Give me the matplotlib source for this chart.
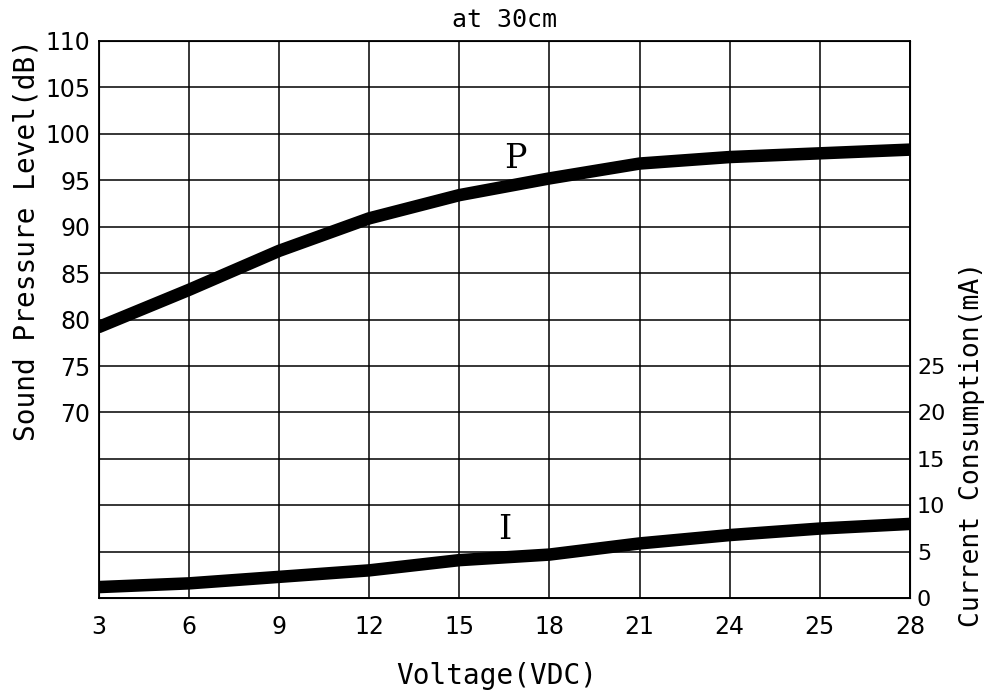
import numpy as np
import matplotlib.pyplot as plt

# data
voltage_labels = ["3", "6", "9", "12", "15", "18", "21", "24", "25", "28"]
spl_db = [79.2, 83.2, 87.4, 90.9, 93.4, 95.2, 96.8, 97.5, 97.9, 98.3]
current_ma = [1.2, 1.6, 2.3, 3.0, 4.1, 4.7, 5.9, 6.8, 7.5, 8.0]
left_ticks = [50, 55, 60, 65, 70, 75, 80, 85, 90, 95, 100, 105, 110]
right_ticks = [0, 5, 10, 15, 20, 25]

plt.rcParams['font.family'] = ['DejaVu Sans']
mono = 'DejaVu Sans Mono'

W, H = 988, 694
fig = plt.figure(figsize=(W / 100, H / 100), dpi=100)
ax = fig.add_axes([0.100, 0.138, 0.821, 0.803])
x = np.arange(len(voltage_labels))

ax.plot(x, spl_db, color='black', lw=9, solid_capstyle='round',
        solid_joinstyle='round', zorder=3)
ax.set_xlim(0, len(voltage_labels) - 1)
ax.set_ylim(50, 110)
ax.set_xticks(x)
ax.set_xticklabels(voltage_labels, fontsize=17)
ax.set_yticks(left_ticks)
ax.set_yticklabels([str(t) if t >= 70 else "" for t in left_ticks], fontsize=17)
ax.tick_params(length=0, pad=6)
ax.tick_params(axis='x', pad=12)
ax.grid(True, color='black', lw=1.1)
for s in ax.spines.values():
    s.set_linewidth(1.3)

ax2 = ax.twinx()
ax2.plot(x, current_ma, color='black', lw=9, solid_capstyle='round',
         solid_joinstyle='round', zorder=3)
ax2.set_ylim(0, 60)
ax2.set_yticks(right_ticks)
ax2.set_yticklabels([str(t) for t in right_ticks], fontsize=16)
ax2.tick_params(length=0, pad=5)

# axis titles placed in figure pixels
fig.text(27 / W, 1 - 240 / H, "Sound Pressure Level(dB)", fontsize=20, family=mono,
         rotation=90, ha='center', va='center')
fig.text(972 / W, 1 - 444 / H, "Current Consumption(mA)", fontsize=19, family=mono,
         rotation=90, ha='center', va='center')
fig.text(497 / W, 1 - 676 / H, "Voltage(VDC)", fontsize=20, family=mono,
         ha='center', va='center')
ax.set_title("at 30cm", fontsize=18, family=mono, pad=10)

ax.text(4.62, 95.6, "P", fontsize=24, family='DejaVu Serif', ha='center', va='bottom')
ax2.text(4.5, 5.6, "I", fontsize=24, family='DejaVu Serif', ha='center', va='bottom')

fig.savefig("out.png", dpi=100, facecolor='white')
